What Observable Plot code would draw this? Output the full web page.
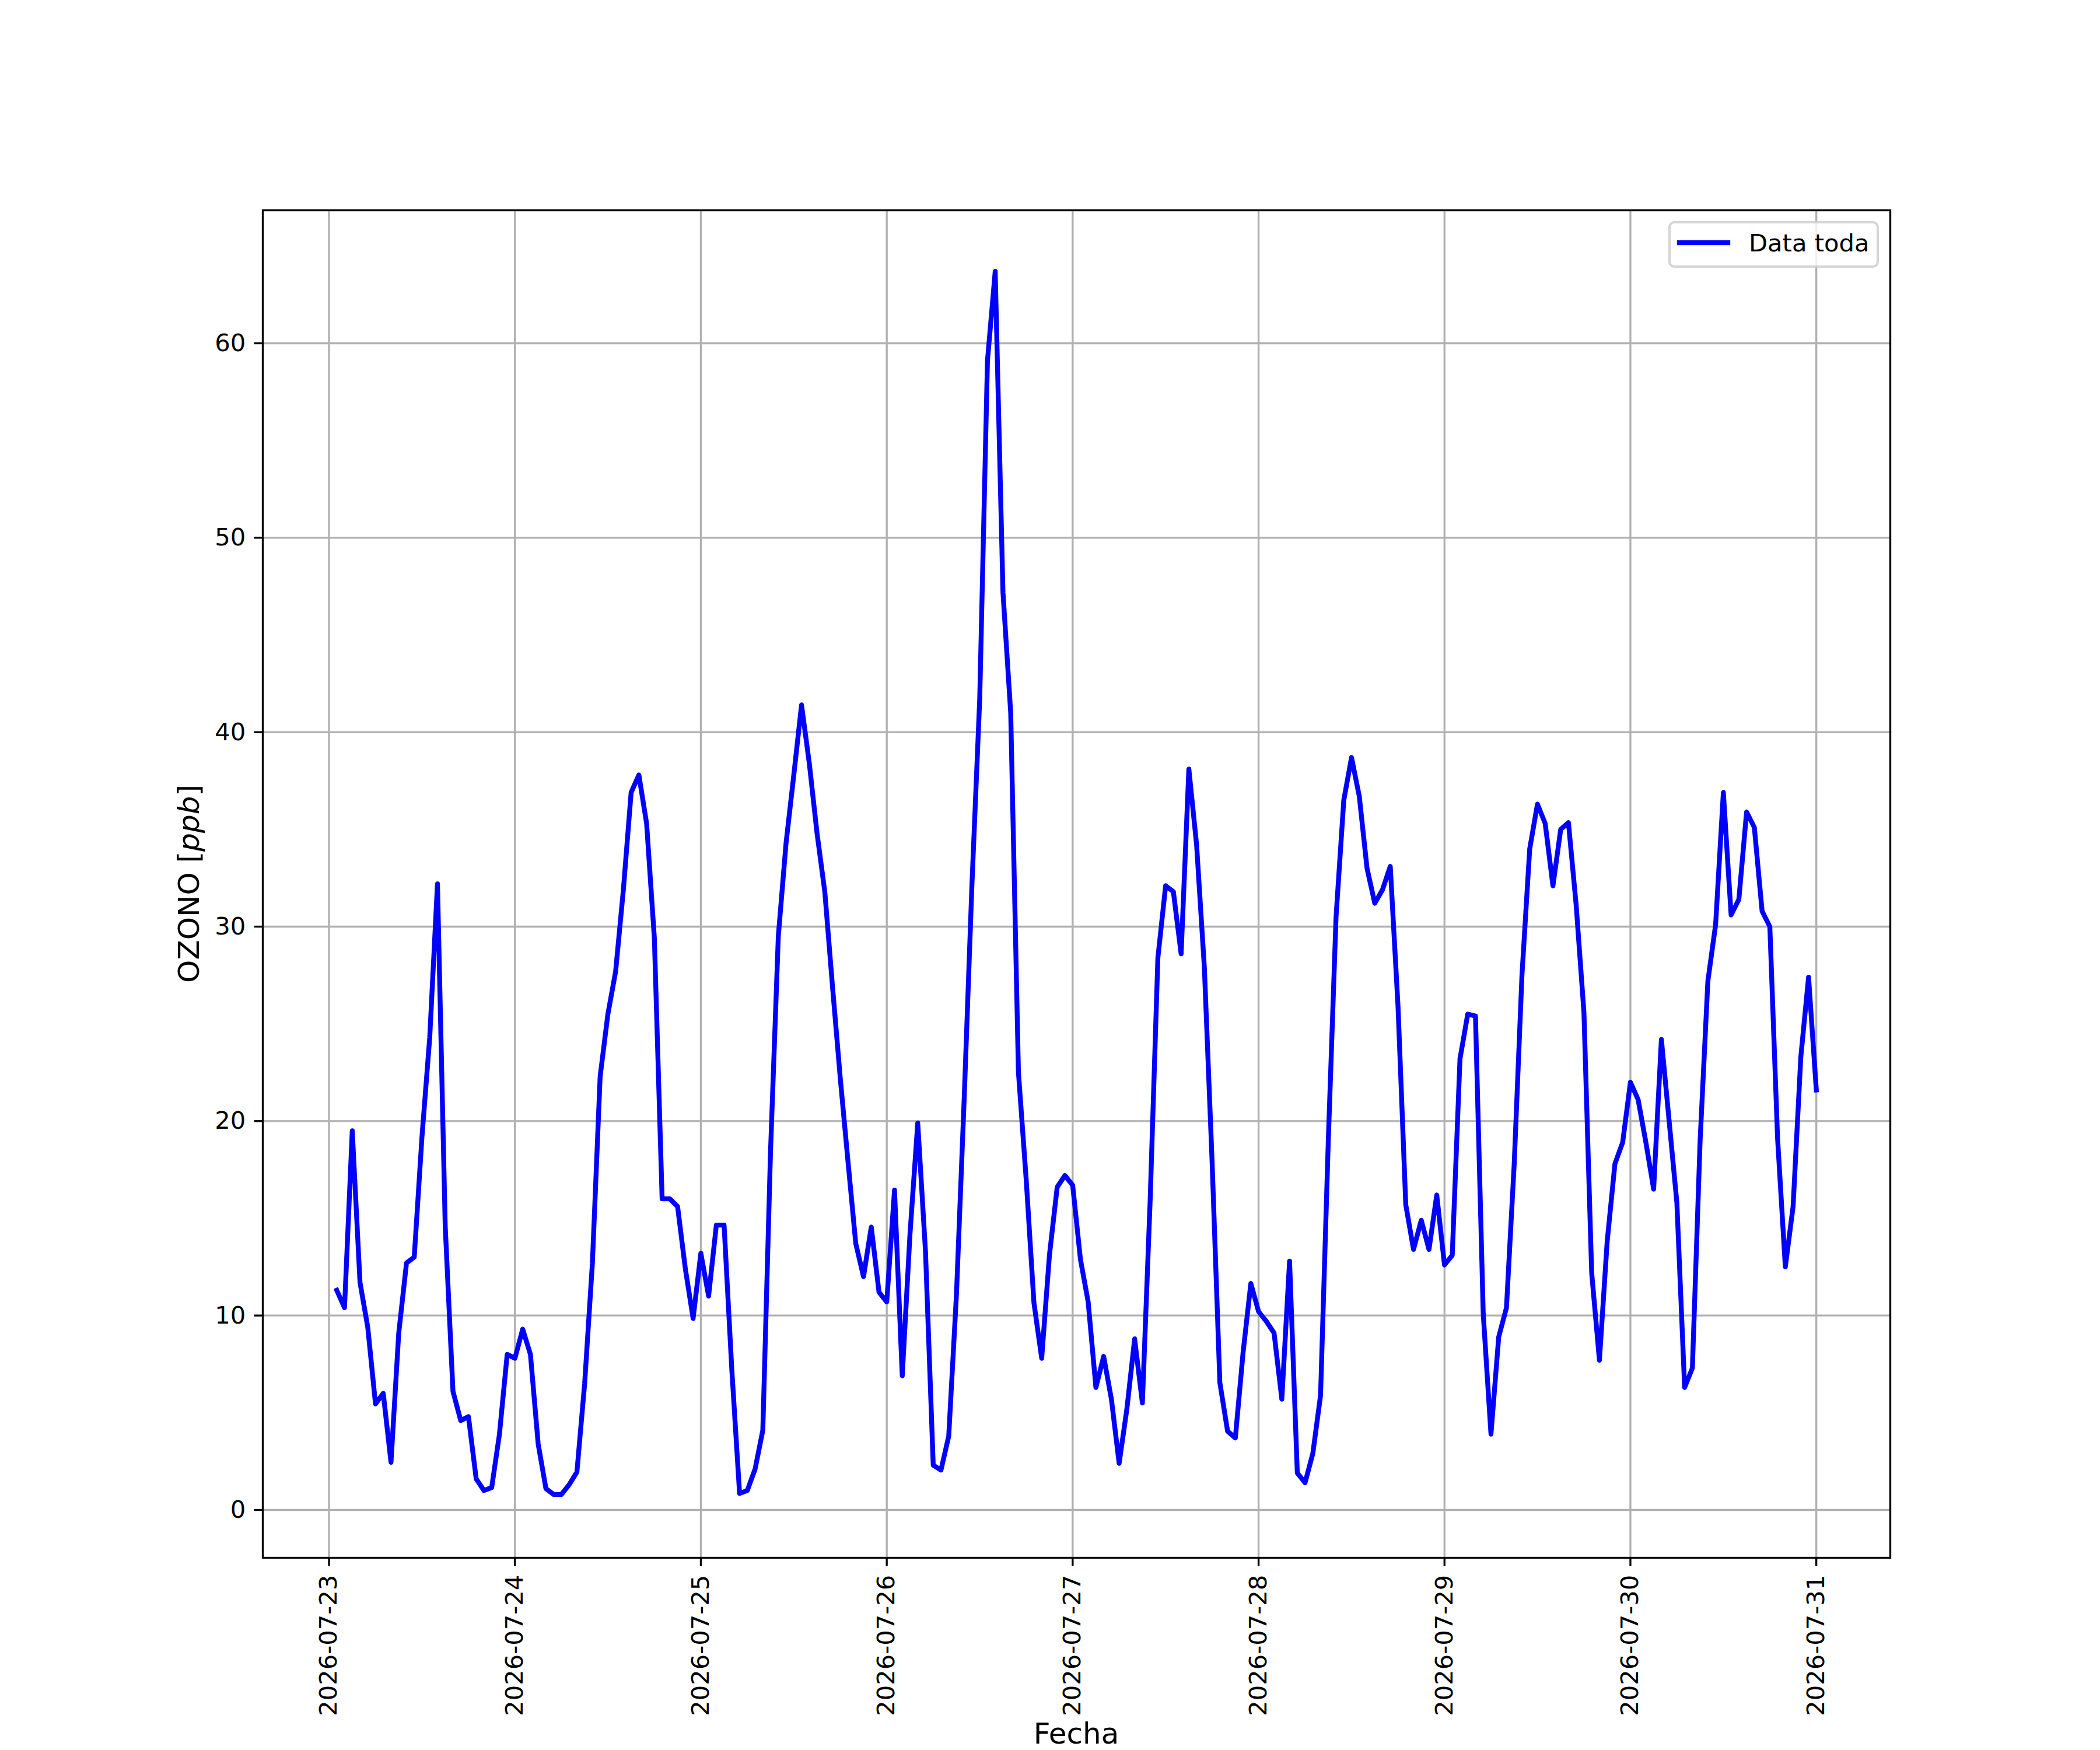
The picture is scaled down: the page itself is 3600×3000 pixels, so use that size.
<!DOCTYPE html>
<html>
<head>
<meta charset="utf-8">
<style>html,body{margin:0;padding:0;background:#fff}</style>
<script src="https://cdn.jsdelivr.net/npm/d3@7"></script>
<script src="https://cdn.jsdelivr.net/npm/@observablehq/plot@0.6"></script>
</head>
<body>
<div id="chart"></div>
<script>
// Hourly ozone readings (ppb). day23 starts at 01:00, other days at 00:00.
const day23 = [11.3, 10.4, 19.5, 11.7, 9.4, 5.45, 6.0, 2.45, 9.1, 12.7, 13.0, 19.2, 24.3, 32.2, 14.6, 6.1, 4.6, 4.8, 1.6, 1.0, 1.15, 3.9, 8.0];
const day24 = [7.8, 9.3, 8.0, 3.4, 1.1, 0.8, 0.8, 1.3, 1.95, 6.5, 12.7, 22.3, 25.5, 27.7, 31.9, 36.9, 37.8, 35.3, 29.4, 16.0, 16.0, 15.6, 12.4, 9.85];
const day25 = [13.2, 11.0, 14.65, 14.65, 7.2, 0.85, 1.0, 2.1, 4.1, 18.5, 29.5, 34.3, 37.8, 41.4, 38.4, 34.8, 31.8, 26.9, 22.2, 17.9, 13.7, 12.0, 14.55, 11.2];
const day26 = [10.7, 16.45, 6.9, 14.2, 19.9, 13.3, 2.3, 2.05, 3.8, 11.1, 21.2, 32.2, 41.7, 59.1, 63.7, 47.2, 41.0, 22.5, 17.0, 10.65, 7.8, 13.1, 16.6, 17.2];
const day27 = [16.7, 12.9, 10.7, 6.3, 7.9, 5.7, 2.4, 5.2, 8.8, 5.5, 15.9, 28.4, 32.1, 31.8, 28.6, 38.1, 34.2, 27.9, 17.9, 6.55, 4.05, 3.7, 8.1, 11.65];
const day28 = [10.2, 9.7, 9.1, 5.7, 12.8, 1.9, 1.4, 2.9, 5.9, 19.0, 30.5, 36.5, 38.7, 36.7, 33.0, 31.2, 31.9, 33.1, 25.9, 15.7, 13.4, 14.9, 13.4, 16.2];
const day29 = [12.6, 13.1, 23.2, 25.5, 25.4, 10.1, 3.9, 8.9, 10.4, 17.8, 27.5, 34.0, 36.3, 35.3, 32.1, 35.0, 35.35, 31.1, 25.6, 12.2, 7.7, 13.8, 17.8, 18.9];
const day30 = [22.0, 21.1, 18.9, 16.5, 24.2, 20.0, 15.8, 6.3, 7.3, 19.0, 27.2, 30.1, 36.9, 30.6, 31.4, 35.9, 35.1, 30.8, 30.0, 19.1, 12.5, 15.6, 23.3, 27.4];
const day31 = [21.6];

const dayStarts = [
  ["2026-07-23", 1, day23], ["2026-07-24", 0, day24], ["2026-07-25", 0, day25],
  ["2026-07-26", 0, day26], ["2026-07-27", 0, day27], ["2026-07-28", 0, day28],
  ["2026-07-29", 0, day29], ["2026-07-30", 0, day30], ["2026-07-31", 0, day31]
];

const xTickLabels = ["2026-07-23", "2026-07-24", "2026-07-25", "2026-07-26", "2026-07-27", "2026-07-28", "2026-07-29", "2026-07-30", "2026-07-31"];
const yTicks = [0, 10, 20, 30, 40, 50, 60];

const data = dayStarts.flatMap(([d, h0, vals]) =>
  vals.map((v, i) => ({time: new Date(Date.parse(d + "T00:00:00Z") + (h0 + i) * 3600e3), ozone: v})));
const xTicks = xTickLabels.map(s => new Date(s + "T00:00:00Z"));

const lw = 3.33;
const lineW = 8.33;
const chart = Plot.plot({
  width: 3600, height: 3000,
  marginLeft: 450, marginRight: 360, marginTop: 360, marginBottom: 330,
  style: {fontFamily: "DejaVu Sans", fontSize: "41.67px", background: "white", color: "black"},
  x: {type: "utc", domain: [new Date("2026-07-22T15:27:00Z"), new Date("2026-07-31T09:33:00Z")]},
  y: {domain: [-2.46, 66.84]},
  marks: [
    Plot.gridX(xTicks, {stroke: "#b0b0b0", strokeOpacity: 1, strokeWidth: lw}),
    Plot.gridY(yTicks, {stroke: "#b0b0b0", strokeOpacity: 1, strokeWidth: lw}),
    Plot.line(data, {x: "time", y: "ozone", stroke: "#0000ff", strokeWidth: lineW, strokeLinejoin: "round", strokeLinecap: "square"}),
    Plot.frame({stroke: "black", strokeWidth: lw}),
    Plot.axisY(yTicks, {tickSize: 14.6, tickPadding: 14.6, strokeWidth: lw, fontSize: 41.67, label: null}),
    Plot.axisX(xTicks, {tickSize: 14.6, tickPadding: 14.6, strokeWidth: lw, tickRotate: -90,
      textAnchor: "end", lineAnchor: "middle",
      tickFormat: d3.utcFormat("%Y-%m-%d"), fontSize: 41.67, label: null})
  ]
});
document.getElementById("chart").appendChild(chart);

const svg = d3.select(chart);
// Axis labels
const yl = svg.append("text")
  .attr("transform", "translate(341,1515) rotate(-90)")
  .attr("text-anchor", "middle")
  .attr("font-family", "DejaVu Sans").attr("font-size", 50).attr("fill", "black");
yl.append("tspan").text("OZONO [");
yl.append("tspan").attr("font-style", "italic").text("ppb");
yl.append("tspan").text("]");
svg.append("text").attr("x", 1845).attr("y", 2989)
  .attr("text-anchor", "middle").attr("font-family", "DejaVu Sans").attr("font-size", 50)
  .attr("fill", "black").text("Fecha");
// Legend
const lg = svg.append("g");
lg.append("rect").attr("x", 2862).attr("y", 381).attr("width", 357).attr("height", 76)
  .attr("rx", 8.3).attr("ry", 8.3)
  .attr("fill", "white").attr("fill-opacity", 0.8)
  .attr("stroke", "#cccccc").attr("stroke-opacity", 0.8).attr("stroke-width", 4.17);
lg.append("line").attr("x1", 2879).attr("x2", 2962).attr("y1", 416).attr("y2", 416)
  .attr("stroke", "#0000ff").attr("stroke-width", lineW).attr("stroke-linecap", "square");
lg.append("text").attr("x", 2998).attr("y", 431)
  .attr("text-anchor", "start")
  .attr("font-family", "DejaVu Sans").attr("font-size", 41.67).attr("fill", "black")
  .text("Data toda");
</script>
</body>
</html>
